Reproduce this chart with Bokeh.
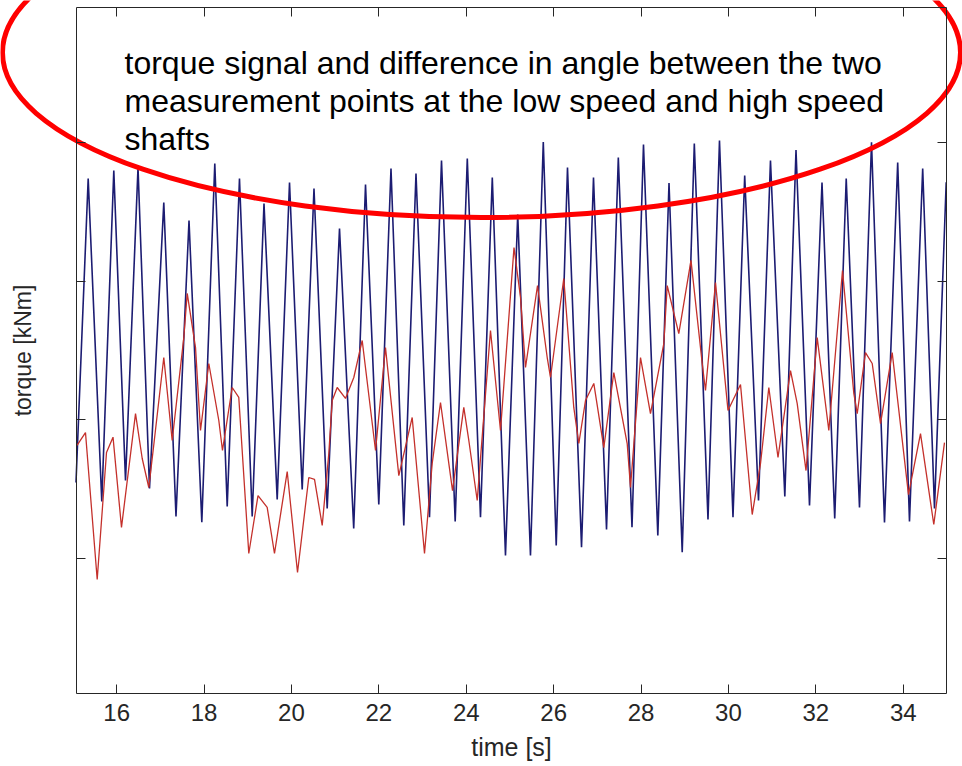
import numpy as np
from bokeh.plotting import figure
from bokeh.models import LinearAxis, FixedTicker, Label, Range1d, CustomLabelingPolicy
from bokeh.embed import file_html
from bokeh.resources import INLINE

# ---- data (time in s, torque in arbitrary axis units) ----
torque_t = [15.070, 15.349, 15.660, 15.935, 16.203, 16.489, 16.752, 17.079, 17.358, 17.656,
            17.949, 18.246, 18.530, 18.811, 19.102, 19.372, 19.674, 19.956, 20.246, 20.516,
            20.818, 21.100, 21.425, 21.695, 21.999, 22.278, 22.571, 22.850, 23.159, 23.434,
            23.747, 24.024, 24.326, 24.596, 24.898, 25.178, 25.470, 25.763, 26.059, 26.317,
            26.638, 26.912, 27.210, 27.480, 27.793, 28.056, 28.384, 28.640, 28.942, 29.219,
            29.532, 29.795, 30.104, 30.372, 30.688, 30.962, 31.290, 31.546, 31.855, 32.141,
            32.432, 32.695, 32.999, 33.274, 33.571, 33.873, 34.143, 34.445, 34.715, 34.983]
torque_y = [0.548, 2.740, 0.411, 2.797, 0.562, 2.819, 0.505, 2.567, 0.303, 2.437,
            0.262, 2.848, 0.375, 2.740, 0.303, 2.560, 0.425, 2.711, 0.497, 2.668,
            0.360, 2.379, 0.216, 2.696, 0.389, 2.812, 0.238, 2.776, 0.298, 2.870,
            0.267, 2.884, 0.298, 2.747, 0.022, 2.480, 0.022, 3.003, 0.094, 2.819,
            0.081, 2.747, 0.209, 2.891, 0.226, 2.985, 0.166, 2.707, 0.045, 2.992,
            0.281, 3.014, 0.298, 2.761, 0.418, 2.870, 0.447, 2.945, 0.382, 2.711,
            0.288, 2.740, 0.368, 3.001, 0.260, 2.855, 0.267, 2.812, 0.360, 2.713]

angle_t = [15.093, 15.287, 15.555, 15.768, 15.917, 16.111, 16.432, 16.585, 16.736, 16.843,
           17.079, 17.271, 17.537, 17.615, 17.805, 17.919, 18.109, 18.338, 18.422, 18.644,
           18.795, 19.024, 19.235, 19.445, 19.612, 19.903, 20.139, 20.397, 20.528, 20.704,
           20.855, 20.933, 21.047, 21.237, 21.427, 21.619, 21.924, 22.152, 22.457, 22.763,
           23.045, 23.221, 23.411, 23.686, 23.944, 24.059, 24.251, 24.555, 24.784, 25.093,
           25.242, 25.356, 25.631, 25.853, 25.928, 26.232, 26.461, 26.576, 26.729, 26.919,
           27.148, 27.377, 27.683, 27.759, 27.988, 28.216, 28.521, 28.599, 28.864, 29.143,
           29.400, 29.475, 29.704, 29.990, 30.276, 30.544, 30.734, 30.924, 31.134, 31.420,
           31.573, 31.775, 32.031, 32.297, 32.610, 32.869, 32.947, 33.136, 33.290, 33.480,
           33.747, 34.120, 34.395, 34.699, 34.944]
angle_y = [0.815, 0.908, -0.151, 0.764, 0.875, 0.224, 1.045, 0.721, 0.512, 0.800,
           1.449, 0.851, 1.593, 1.911, 1.521, 0.923, 1.406, 0.995, 0.779, 1.233,
           1.161, 0.036, 0.454, 0.368, 0.036, 0.627, -0.101, 0.584, 0.570, 0.238,
           0.757, 1.139, 1.233, 1.154, 1.305, 1.572, 0.779, 1.521, 0.598, 1.017,
           0.036, 0.685, 1.125, 0.490, 1.089, 0.851, 0.418, 1.644, 0.923, 2.242,
           1.882, 1.377, 1.968, 1.449, 1.305, 2.019, 1.089, 0.829, 1.139, 1.262,
           0.800, 1.341, 0.829, 0.512, 1.449, 1.045, 1.550, 1.968, 1.622, 2.149,
           1.406, 1.211, 1.990, 1.067, 1.255, 0.317, 0.685, 1.233, 0.728, 1.355,
           1.118, 0.634, 1.593, 0.923, 2.076, 1.190, 1.045, 1.485, 1.406, 0.973,
           1.485, 0.461, 0.901, 0.245, 0.836]

x_ticks = [16, 18, 20, 22, 24, 26, 28, 30, 32, 34]
y_ticks = [0, 1, 2, 3]
x_label = "time [s]"
y_label = "torque [kNm]"
note_lines = ["torque signal and difference in angle between the two",
              "measurement points at the low speed and high speed",
              "shafts"]

# axes box (data limits of the MATLAB axes)
X_MIN, X_MAX = 15.07, 35.0
Y_MIN, Y_MAX = -0.971, 3.970

FONT = "Liberation Sans"
AX = "#262626"

# the frame fills the whole canvas, so the red ellipse can run outside the axes box;
# the axes are drawn at fixed locations on the box edges
p = figure(width=962, height=766, output_backend="svg", toolbar_location=None,
           x_range=Range1d(13.3423, 35.3560), y_range=Range1d(-1.4996, 4.0231),
           x_axis_location=None, y_axis_location=None,
           min_border_left=0, min_border_right=0, min_border_top=0, min_border_bottom=0)
p.xgrid.visible = False
p.ygrid.visible = False
p.outline_line_color = None
p.background_fill_color = "white"
p.border_fill_color = "white"

no_labels = CustomLabelingPolicy(code="return new Set()")


def make_axis(ticks, loc, bounds, show_labels, label=None):
    ax = LinearAxis(ticker=FixedTicker(ticks=ticks), fixed_location=loc, bounds=bounds)
    ax.major_tick_in = 9
    ax.major_tick_out = 0
    ax.minor_tick_in = 0
    ax.minor_tick_out = 0
    ax.axis_line_color = AX
    ax.major_tick_line_color = AX
    ax.major_label_text_font = FONT
    ax.major_label_text_color = "#262626"
    ax.major_label_text_font_size = "24px"
    ax.major_label_standoff = 11
    if not show_labels:
        ax.major_label_policy = no_labels
        ax.major_label_standoff = 0
    if label:
        ax.axis_label = label
        ax.axis_label_text_font = FONT
        ax.axis_label_text_font_size = "25px"
        ax.axis_label_text_font_style = "normal"
        ax.axis_label_text_color = "#262626"
    return ax


bottom = make_axis(x_ticks, Y_MIN, (X_MIN, X_MAX), True, x_label)
bottom.axis_label_standoff = 8
p.add_layout(bottom, "below")
top = make_axis(x_ticks, Y_MAX, (X_MIN, X_MAX), False)
p.add_layout(top, "above")
left = make_axis(y_ticks, X_MIN, (Y_MIN, Y_MAX), False, y_label)
left.axis_label_standoff = 24
left.axis_label_text_font_size = "23px"
p.add_layout(left, "left")
right = make_axis(y_ticks, X_MAX, (Y_MIN, Y_MAX), False)
p.add_layout(right, "right")

p.line(torque_t, torque_y, line_color="#1c1c72", line_width=1.6)
p.line(angle_t, angle_y, line_color="#c4302b", line_width=1.3)

# annotation text
for txt, yy in zip(note_lines, [3.569, 3.302, 3.028]):
    p.add_layout(Label(x=16.18, y=yy, text=txt, text_font=FONT, text_font_size="32px",
                       text_color="black", text_baseline="alphabetic", text_align="left"))

# red ellipse drawn around the text
p.ellipse(x=24.349, y=3.648, width=2 * 10.961, height=2 * 1.190,
          fill_color=None, line_color="#ff0000", line_width=5)

open("out.html", "w").write(file_html(p, INLINE))
